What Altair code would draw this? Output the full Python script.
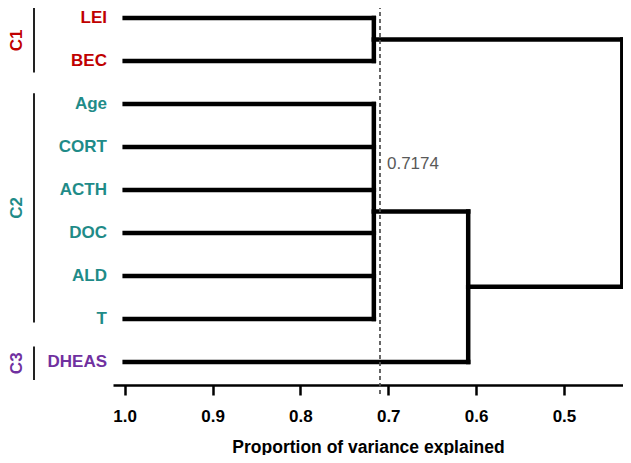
import altair as alt
import pandas as pd

# ---- data ----
leaves = ["LEI", "BEC", "Age", "CORT", "ACTH", "DOC", "ALD", "T", "DHEAS"]
leaf_group = ["C1", "C1", "C2", "C2", "C2", "C2", "C2", "C2", "C3"]
leaf_height = 1.0

merge_names = ["M1", "M2", "M3", "M4"]
merge_children = [
    ["LEI", "BEC"],
    ["Age", "CORT", "ACTH", "DOC", "ALD", "T"],
    ["M2", "DHEAS"],
    ["M1", "M3"],
]
merge_heights = [0.7164, 0.7164, 0.609, 0.4336]

cut_value = 0.7094
cut_label = "0.7174"

groups = ["C1", "C2", "C3"]
group_colors = ["#C00000", "#1F8B88", "#7030A0"]
group_start = [-0.23, 1.75, 7.64]
group_end = [1.27, 7.08, 8.42]

x_ticks = [1.0, 0.9, 0.8, 0.7, 0.6, 0.5]

FONT = "Liberation Sans"

# ---- build dendrogram segments ----
pos = {name: float(i) for i, name in enumerate(leaves)}
hgt = {name: leaf_height for name in leaves}
segs = []
for name, kids, h in zip(merge_names, merge_children, merge_heights):
    ys = [pos[k] for k in kids]
    segs.append({"x": h, "x2": h, "y": min(ys), "y2": max(ys)})
    for k in kids:
        segs.append({"x": hgt[k], "x2": h, "y": pos[k], "y2": pos[k]})
    pos[name] = (min(ys) + max(ys)) / 2
    hgt[name] = h
seg_df = pd.DataFrame(segs)

leaf_df = pd.DataFrame({"leaf": leaves, "group": leaf_group,
                        "y": list(range(len(leaves)))})
grp_df = pd.DataFrame({"group": groups, "start": group_start, "end": group_end})
grp_df["mid"] = (grp_df["start"] + grp_df["end"]) / 2
cut_df = pd.DataFrame({"x": [cut_value], "y": [-0.30], "y2": [8.77],
                       "label": [cut_label], "ly": [3.40]})

xscale = alt.Scale(domain=[0.4328, 1.0133], reverse=True, nice=False, zero=False)
yscale = alt.Scale(domain=[-0.23256, 8.5349], reverse=True, nice=False, zero=False)
cscale = alt.Scale(domain=groups, range=group_colors)

xaxis = alt.Axis(values=x_ticks, format=".1f", grid=False,
                 title="Proportion of variance explained",
                 domainColor="black", domainWidth=2.5,
                 tickColor="black", tickWidth=2.5, tickSize=10,
                 labelFont=FONT, labelFontSize=17, labelFontWeight="bold",
                 labelColor="black", labelPadding=13,
                 titleFont=FONT, titleFontSize=17.5, titleFontWeight="bold",
                 titleColor="black", titlePadding=14)

tree = alt.Chart(seg_df).mark_rule(color="black", strokeWidth=4.5,
                                   strokeCap="square").encode(
    x=alt.X("x:Q", scale=xscale, axis=xaxis),
    x2="x2:Q",
    y=alt.Y("y:Q", scale=yscale, axis=None),
    y2="y2:Q",
)

cut = alt.Chart(cut_df).mark_rule(color="#4d4d4d", strokeWidth=1.7,
                                  strokeDash=[4, 3]).encode(
    x=alt.X("x:Q", scale=xscale),
    y=alt.Y("y:Q", scale=yscale),
    y2="y2:Q",
)

cut_text = alt.Chart(cut_df).mark_text(align="left", baseline="middle", dx=7,
                                       font=FONT, fontSize=17,
                                       color="#595959").encode(
    x=alt.X("x:Q", scale=xscale),
    y=alt.Y("ly:Q", scale=yscale),
    text="label:N",
)

leaf_text = alt.Chart(leaf_df).mark_text(align="right", baseline="middle",
                                         font=FONT, fontSize=17,
                                         fontWeight="bold").encode(
    x=alt.value(-6),
    y=alt.Y("y:Q", scale=yscale),
    text="leaf:N",
    color=alt.Color("group:N", scale=cscale, legend=None),
)

brackets = alt.Chart(grp_df).mark_rule(color="#222222", strokeWidth=2).encode(
    x=alt.value(-79),
    y=alt.Y("start:Q", scale=yscale),
    y2="end:Q",
)

grp_text = alt.Chart(grp_df).mark_text(angle=270, align="center",
                                       baseline="middle", font=FONT,
                                       fontSize=17, fontWeight="bold").encode(
    x=alt.value(-96),
    y=alt.Y("mid:Q", scale=yscale),
    text="group:N",
    color=alt.Color("group:N", scale=cscale, legend=None),
)

chart = alt.layer(tree, cut, cut_text, leaf_text, brackets, grp_text).properties(
    width=510, height=377,
    padding={"left": 105, "top": 0, "right": 0, "bottom": 70},
    autosize=alt.AutoSizeParams(type="none"),
).configure_view(stroke=None)

chart.save("out.html", embed_options={"renderer": "svg", "actions": False})
